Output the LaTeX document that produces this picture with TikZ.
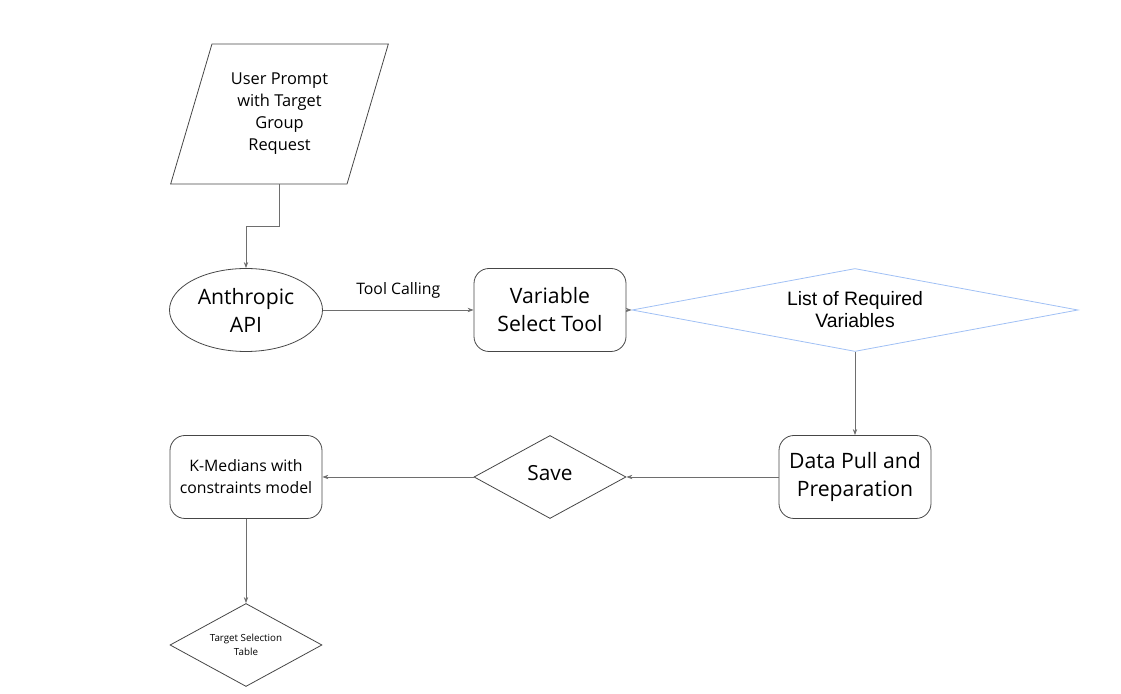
\documentclass[tikz,border=0pt]{standalone}
\usepackage{fontspec}
\setmainfont{Open Sans}
\newfontfamily\arialfont{Liberation Sans}
\usetikzlibrary{shapes.geometric, arrows.meta}
\definecolor{borde}{RGB}{70,70,70}
\definecolor{linea}{RGB}{110,110,110}
\definecolor{azul}{RGB}{160,192,245}

\begin{document}
\begin{tikzpicture}[x=0.5pt, y=-0.5pt, >={Stealth[length=3pt,width=2.2pt]},
          line width=0.4pt,
          proceso/.style={draw=borde, rectangle, rounded corners=7.5pt, minimum width=76pt, minimum height=41.5pt, inner sep=0pt, align=center, font=\fontsize{10.6}{14}\selectfont},
          entrada/.style={draw=borde, trapezium, trapezium left angle=70, trapezium right angle=110, trapezium stretches=true, minimum width=109.5pt, minimum height=70pt, inner sep=0pt, align=center, font=\fontsize{8.2}{11}\selectfont},
          decision/.style={draw=borde, diamond, aspect=1.8, minimum width=76pt, minimum height=41.5pt, inner sep=0pt, align=center},
          flecha/.style={draw=linea, ->}
        ]
        \useasboundingbox (0,0) rectangle (1121,694);

        \node[entrada] (prompt) at (279.5,114) {User Prompt\\with Target\\Group\\Request};
        \node[draw=borde, ellipse, minimum width=76.5pt, minimum height=41.5pt, inner sep=0pt, align=center, font=\fontsize{10.6}{14}\selectfont] (api) at (246,310) {Anthropic\\API};
        \node[proceso] (varsel) at (550,310) {Variable\\Select Tool};
        \node[decision, draw=azul, aspect=5.4, minimum width=223pt, font=\arialfont\fontsize{9.7}{11}\selectfont] (lista) at (855,310) {List of Required\\Variables};
        \node[proceso] (datos) at (855,477) {Data Pull and\\Preparation};
        \node[decision, text depth=4pt, font=\fontsize{10.4}{14}\selectfont] (guardar) at (550,477) {Save};
        \node[proceso, font=\fontsize{7.9}{11}\selectfont] (kmed) at (246,477) {K-Medians with\\constraints model};
        \node[decision, font=\fontsize{4.9}{7}\selectfont] (tabla) at (246,645) {Target Selection\\Table};
        \coordinate (salida) at (prompt.center |- prompt.south);
        \coordinate (codo) at (246,226);

        % fila superior
        \draw[flecha] (salida) |- (codo) -- (api.north);
        \draw[flecha] (api.east) -- node[midway, above=2.5pt, text=black, font=\fontsize{7.9}{10}\selectfont] (llamada) {Tool Calling} (varsel.west);
        \draw[flecha] (varsel.east) -- (lista.west);

        % bajada y fila inferior
        \draw[flecha] (lista.south) -- (datos.north);
        \draw[flecha] (datos.west) -- (guardar.east);
        \draw[flecha] (guardar.west) -- (kmed.east);
        \draw[flecha] (kmed.south) -- (tabla.north);
      \end{tikzpicture}
\end{document}
